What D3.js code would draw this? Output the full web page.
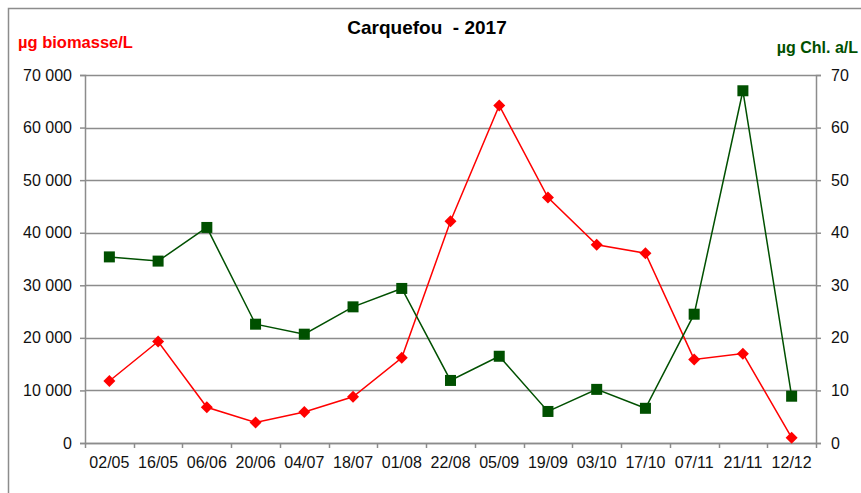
<!DOCTYPE html>
<html>
<head>
<meta charset="utf-8">
<script src="https://cdn.jsdelivr.net/npm/d3@7"></script>
<style>
  body { margin: 0; background: #fff; }
  text { font-family: "Liberation Sans", Arial, sans-serif; }
</style>
</head>
<body>
<svg id="chart" width="861" height="493"></svg>
<script>
var dates = ['02/05', '16/05', '06/06', '20/06', '04/07', '18/07', '01/08', '22/08',
  '05/09', '19/09', '03/10', '17/10', '07/11', '21/11', '12/12'];
var biomasse = [11800, 19300, 6800, 3900, 5900, 8800, 16200, 42200,
  64200, 46700, 37700, 36100, 15900, 17000, 1000];
var chla = [35.4, 34.6, 41.0, 22.6, 20.7, 25.9, 29.4, 11.9,
  16.5, 6.0, 10.2, 6.6, 24.5, 67.0, 8.9];
var leftTicks = [0, 10000, 20000, 30000, 40000, 50000, 60000, 70000];
var rightTicks = [0, 10, 20, 30, 40, 50, 60, 70];

var svg = d3.select('#chart');
var margin = { left: 85, right: 861 - 816, top: 75, bottom: 493 - 443 };
var width = 861 - margin.left - margin.right,
  height = 493 - margin.top - margin.bottom;

var red = '#ff0000', green = '#005000', grey = '#8c8c8c';

// outer frame
svg.append('rect')
  .attr('x', 8.5).attr('y', 8.5)
  .attr('width', 900).attr('height', 600)
  .attr('fill', 'none').attr('stroke', grey).attr('stroke-width', 1.5);

var x = d3.scaleBand().domain(dates).range([0, width]);
var yL = d3.scaleLinear().domain([0, 70000]).range([height, 0]);
var yR = d3.scaleLinear().domain([0, 70]).range([height, 0]);

var g = svg.append('g').attr('transform', 'translate(' + margin.left + ',' + margin.top + ')');

// gridlines
g.selectAll('.grid').data(leftTicks).enter().append('line')
  .attr('class', 'grid')
  .attr('x1', 0).attr('x2', width)
  .attr('y1', d => Math.round(yL(d)) + 0.5)
  .attr('y2', d => Math.round(yL(d)) + 0.5)
  .attr('stroke', grey).attr('stroke-width', 1.5);

var fmt = d => d3.format(',')(d).replace(/,/g, ' ');

var axL = g.append('g')
  .call(d3.axisLeft(yL).tickValues(leftTicks).tickFormat(fmt).tickSize(5).tickPadding(8));
var axR = g.append('g').attr('transform', 'translate(' + width + ',0)')
  .call(d3.axisRight(yR).tickValues(rightTicks).tickSize(5).tickPadding(10));
var axB = g.append('g').attr('transform', 'translate(0,' + height + ')')
  .call(d3.axisBottom(x).tickSize(0).tickPadding(14));

// x ticks at category boundaries
g.selectAll('.xtick').data(d3.range(dates.length + 1)).enter().append('line')
  .attr('class', 'xtick')
  .attr('x1', i => Math.round(i * x.step()) + 0.5)
  .attr('x2', i => Math.round(i * x.step()) + 0.5)
  .attr('y1', height).attr('y2', height + 5)
  .attr('stroke', grey).attr('stroke-width', 1.5);

[axL, axR, axB].forEach(function(a) {
  a.selectAll('.domain').attr('stroke', grey).attr('stroke-width', 1.5);
  a.selectAll('.tick line').attr('stroke', grey).attr('stroke-width', 1.5);
  a.selectAll('text').attr('font-size', 16).attr('fill', '#111')
    .style('font-family', '"Liberation Sans", Arial, sans-serif');
});
axB.select('.domain').attr('d', 'M0,0.5H' + width);

var cx = d => x(d) + x.bandwidth() / 2;

// biomasse line
g.append('path')
  .datum(biomasse)
  .attr('fill', 'none').attr('stroke', red).attr('stroke-width', 1.5)
  .attr('d', d3.line().x((d, i) => cx(dates[i])).y(d => yL(d)));

// chl a line
g.append('path')
  .datum(chla)
  .attr('fill', 'none').attr('stroke', green).attr('stroke-width', 1.5)
  .attr('d', d3.line().x((d, i) => cx(dates[i])).y(d => yR(d)));

g.selectAll('.diamond').data(biomasse).enter().append('path')
  .attr('class', 'diamond')
  .attr('transform', (d, i) => 'translate(' + cx(dates[i]) + ',' + yL(d) + ')')
  .attr('d', 'M0,-6L6,0L0,6L-6,0Z')
  .attr('fill', red);

g.selectAll('.square').data(chla).enter().append('rect')
  .attr('class', 'square')
  .attr('x', (d, i) => cx(dates[i]) - 5.5)
  .attr('y', d => yR(d) - 5.5)
  .attr('width', 11).attr('height', 11)
  .attr('fill', green);

// titles
svg.append('text')
  .attr('x', 427).attr('y', 34)
  .attr('text-anchor', 'middle')
  .attr('font-size', 19).attr('font-weight', 'bold')
  .attr('xml:space', 'preserve')
  .text('Carquefou  - 2017');

svg.append('text')
  .attr('x', 18).attr('y', 48)
  .attr('font-size', 16.5).attr('font-weight', 'bold').attr('fill', red)
  .text('µg biomasse/L');

svg.append('text')
  .attr('x', 858).attr('y', 53)
  .attr('text-anchor', 'end')
  .attr('font-size', 16).attr('font-weight', 'bold').attr('fill', green)
  .text('µg Chl. a/L');
</script>
</body>
</html>
